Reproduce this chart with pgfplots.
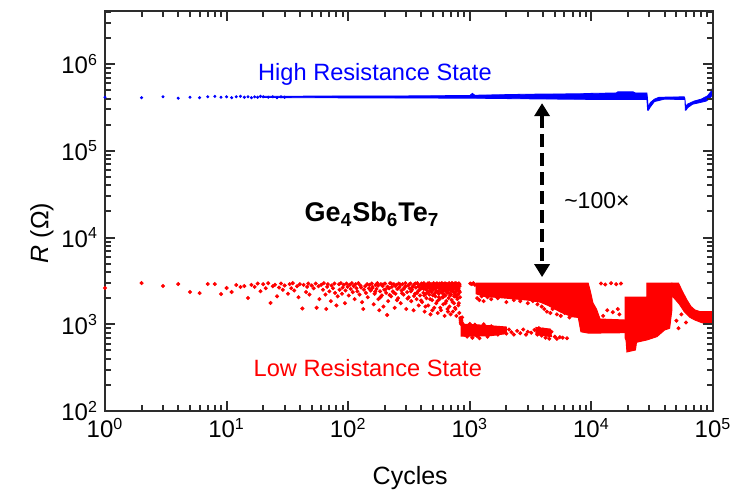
\documentclass[border=0pt]{standalone}
\usepackage{fontspec}
\setmainfont{Liberation Sans}
\usepackage{pgfplots}
\pgfplotsset{compat=1.18}
\usetikzlibrary{arrows.meta}

\definecolor{frame}{RGB}{45,45,45}

\begin{document}
\begin{tikzpicture}
\begin{axis}[
  scale only axis, width=304pt, height=200pt,
  xmode=log, ymode=log,
  xmin=1, xmax=1e5, ymin=100, ymax=4.1e6,
  xtick={1,10,100,1000,10000,100000},
  xticklabels={10\textsuperscript{0},10\textsuperscript{1},10\textsuperscript{2},10\textsuperscript{3},10\textsuperscript{4},10\textsuperscript{5}},
  ytick={100,1000,10000,100000,1000000},
  yticklabels={10\textsuperscript{2},10\textsuperscript{3},10\textsuperscript{4},10\textsuperscript{5},10\textsuperscript{6}},
  minor xtick={2,3,4,5,6,7,8,9,20,30,40,50,60,70,80,90,200,300,400,500,600,700,800,900,2000,3000,4000,5000,6000,7000,8000,9000,20000,30000,40000,50000,60000,70000,80000,90000},
  minor ytick={200,300,400,500,600,700,800,900,2000,3000,4000,5000,6000,7000,8000,9000,20000,30000,40000,50000,60000,70000,80000,90000,200000,300000,400000,500000,600000,700000,800000,900000,2000000,3000000,4000000},
  tick pos=both,
  tick align=inside,
  major tick length=5pt, minor tick length=3pt,
  axis line style={frame, line width=1.2pt},
  tick style={frame, line width=1pt},
  axis on top,
  tick label style={font=\fontsize{12}{14}\selectfont},
  label style={font=\fontsize{12.5}{15}\selectfont},
  xlabel={Cycles},
  ylabel={\textit{R} (Ω)},
  xlabel style={at={(axis description cs:0.502,-0.1675)}, anchor=center},
  ylabel style={at={(axis description cs:-0.1036,0.445)}, anchor=center},
]

% high resistance state: dense band
\addplot[fill=blue, draw=blue, line width=0.4pt] coordinates {
  (20,4.25e5) (100,4.3e5) (300,4.3e5) (1000,4.35e5) (1050,4.6e5) (1100,4.38e5)
  (3000,4.5e5) (8000,4.55e5) (10000,4.6e5) (16000,4.65e5) (16500,4.8e5) (22000,4.8e5)
  (23000,4.65e5) (28600,4.65e5) (28900,4.1e5) (29300,3.2e5) (30500,3.6e5) (33000,3.95e5)
  (36000,4.15e5) (58000,4.2e5) (58800,4.0e5) (59500,3.2e5) (61500,3.45e5) (70000,3.75e5)
  (80000,3.95e5) (90000,4.3e5) (97000,4.9e5) (100000,5.5e5)
  (100000,4.6e5) (95000,4.05e5) (88000,3.75e5) (78000,3.6e5) (68000,3.45e5) (62000,3.15e5)
  (60000,2.95e5) (59200,2.95e5) (58800,3.9e5) (40000,3.95e5) (33000,3.7e5) (30500,3.2e5)
  (29500,2.95e5) (29000,2.95e5) (28600,3.92e5) (10000,3.92e5) (3000,3.98e5) (1000,4.05e5)
  (100,4.08e5) (20,4.12e5)} -- cycle;
% high resistance state: early cycles
\addplot[only marks, mark=*, mark size=0.55pt, blue] coordinates {
  (1,4.15e5) (2,4.1e5) (3,4.2e5) (4,4.05e5) (5,4.15e5) (6,4.1e5) (7,4.2e5) (8,4.25e5)
  (9,4.15e5) (10,4.2e5) (11,4.1e5) (12,4.2e5) (13,4.25e5) (14,4.15e5) (15,4.2e5)
  (16,4.1e5) (17,4.2e5) (18,4.15e5) (19,4.25e5) (20,4.2e5) (22,4.15e5) (24,4.2e5)
  (26,4.1e5) (28,4.2e5) (30,4.15e5)};

% low resistance state: dense blocks
\addplot[fill=red, draw=red, line width=0.5pt] coordinates {
  (1125,2990) (9400,2990) (9800,2400) (10300,1760) (11000,1500) (11780,1150) (18900,1120)
  (18900,800) (9500,790) (8200,820) (7800,1200) (7000,1220) (6300,1290) (5600,1380)
  (5000,1500) (4400,1650) (3800,1800) (3000,1900) (2000,2000) (1300,2100) (1125,2250)} -- cycle;
\addplot[fill=red, draw=red, line width=0.5pt] coordinates {
  (18900,2060) (28600,2060) (28600,2990) (46000,2990) (46000,1500) (44000,900) (40000,860)
  (34600,720) (28600,660) (23500,620) (23000,505) (19600,480) (19300,650) (18900,700)} -- cycle;
\addplot[fill=red, draw=red, line width=0.5pt] coordinates {
  (46000,2990) (52000,2990) (56000,2400) (61100,1900) (66000,1600) (71100,1460) (78200,1400)
  (100000,1400) (100000,1030) (90000,1000) (80000,1050) (71100,1120) (64700,1200) (58000,1400)
  (53000,1700) (48000,2000) (46000,2100)} -- cycle;
\addplot[fill=red, draw=red, line width=0.5pt] coordinates {
  (850,1000) (1100,990) (1500,960) (2000,930) (2000,780) (1500,740) (1100,730) (850,730)} -- cycle;
\addplot[fill=red, draw=red, line width=0.5pt] coordinates {
  (3500,920) (4600,880) (4700,720) (3500,760)} -- cycle;

% low resistance state: individual points
\addplot[only marks, mark=*, mark size=0.8pt, red] coordinates {
  (1,2620) (2,2990) (3,2760) (4,2910) (5,2355) (6,2290) (7,2910) (8,2910) (9,2230)
  (10,2620) (11,2355) (12,2840) (13,2690) (14,2760) (15,2010)
  (16,2850) (17,2700) (18,2950) (19,2400) (20,2900) (21,2600) (22,2980) (23,1760) (24,2750)
  (25,2850) (26,2100) (27,2650) (28,2950) (29,2500) (30,2800) (32,2250) (33,2900) (34,2600)
  (35,2980) (36,2450) (38,2750) (39,2050) (40,2900) (42,1520) (43,2850) (45,2350) (46,2700)
  (47,2950) (48,2200) (50,2800)
  (52,2600) (54,2950) (55,1550) (57,2750) (58,1950) (60,2850) (62,2500) (63,2980) (65,2200)
  (66,1500) (67,2700) (68,2900) (70,2400) (72,1850) (73,2800) (75,2600) (77,2950) (78,2300)
  (80,1650) (82,2100) (84,2900) (85,2500) (87,2980) (89,2250) (90,2650) (92,2850) (94,1750)
  (95,2450) (97,2950) (99,2700) (101,2150) (103,2850) (105,2550) (107,2980) (109,2350)
  (111,2750) (113,1950) (115,2900) (117,2600) (119,2400) (121,2980) (124,2200) (126,2800)
  (128,2650) (130,1800) (133,1500) (135,2500) (138,2750) (140,2300) (143,2900) (145,2050)
  (148,2600) (150,2850)
  (153,2450) (156,2950) (159,2700) (162,1700) (165,2250) (168,2850) (171,2550) (174,2980)
  (177,1950) (180,1450) (183,2400) (186,2900) (189,2150) (192,2750) (195,1600) (198,2500)
  (201,2950) (205,2300) (209,1280) (213,1850) (217,2600) (221,2980) (225,2100) (229,2700)
  (233,2400) (237,2900) (241,1550) (245,2250) (249,2850) (253,2550) (257,2000) (261,2950)
  (265,2700) (270,1750) (275,2450) (280,2900) (285,2200) (290,2650) (295,2980) (300,1500)
  (305,2350) (310,2800) (315,2050) (320,2600) (325,2950) (330,1850) (335,2500) (340,2750)
  (345,1450) (350,2900) (355,2250) (360,2650) (365,1950) (370,2980) (375,2400) (380,1650)
  (385,2800) (390,2150) (395,2600) (400,2950)
  (405,1800) (410,2700) (415,2300) (420,2980) (425,1400) (430,2550) (435,2850) (440,2000)
  (445,2450) (450,2950) (455,1650) (460,2750) (465,2200) (470,2600) (475,1300) (480,2900)
  (485,2350) (490,1900) (495,2800) (500,2500) (505,2980) (510,1550) (515,2650) (520,2100)
  (525,2850) (530,1750) (535,2400) (540,2950) (545,1350) (550,2700) (555,2250) (560,2900)
  (565,1950) (570,2550) (575,2800) (580,1450) (585,2350) (590,2980) (595,2050) (600,2650)
  (605,1700) (610,2850) (615,2450) (620,1250) (625,2750) (630,2150) (635,2950) (640,1850)
  (645,2600) (650,2900) (655,1500) (660,2300) (665,2700) (670,2000) (675,2980) (680,1600)
  (685,2500) (690,2850) (695,1300) (700,2200) (705,2750) (710,1900) (715,2600) (720,2950)
  (725,1400) (730,2400) (735,2800) (740,1750) (745,2100) (750,2900) (755,1550) (760,2650)
  (765,2350) (770,2980) (775,1250) (780,2500) (785,2850) (790,1950) (795,2700) (800,2200)
  (805,1650) (810,2950) (815,2450) (820,1350) (825,2750) (830,2050)
  (402,2600) (412,2900) (422,2150) (432,1600) (442,2800) (452,2350) (462,2980) (472,1950)
  (482,2650) (492,1450) (502,2850) (512,2250) (522,2550) (532,2950) (542,1850) (552,2400)
  (562,2750) (572,1550) (582,2900) (592,2300) (602,2050) (612,2650) (622,2950) (632,1750)
  (642,2450) (652,2800) (662,1400) (672,2600) (682,2900) (692,2150) (702,2450) (712,2980)
  (722,1800) (732,2650) (742,2900) (752,2250) (762,1500) (772,2750) (782,2050) (792,2900)
  (802,2550) (812,1750) (822,2850)
  (158,2620) (167,2380) (176,2780) (184,2050) (194,2880) (203,2520) (211,2710) (219,2180)
  (227,2940) (236,2330) (244,2760) (252,1900) (259,2600) (268,2870) (277,2280) (287,2560)
  (297,2750) (308,1980) (318,2900) (328,2400) (338,2680) (348,2120) (358,2950) (368,2300)
  (378,2720) (388,2500) (398,1880) (407,2850) (417,2560) (427,2760) (437,2250) (447,2680)
  (457,2900) (467,2450) (477,2780) (487,2600) (497,2150) (507,2700) (517,2880) (527,2350)
  (537,2650) (547,2800) (557,2050) (567,2950) (577,2600) (587,2700) (597,2450) (607,2900)
  (617,2200) (627,2600) (637,2800) (647,2350) (657,2750) (667,2500) (677,2850) (687,2250)
  (697,2650) (707,2900) (717,2400) (727,2780) (737,2550) (747,2950) (757,2150) (767,2700)
  (777,2880) (787,2450) (797,2800) (807,2600) (817,2950) (827,2350)
  (835,1180) (838,1120) (842,1060) (846,1010) (850,1150) (855,1090) (860,1040) (865,1200)
  (880,1000) (900,760) (950,720) (1000,1010) (1050,700) (1100,990) (1150,730) (1200,690)
  (1300,1000) (1400,720) (1500,950) (1600,880) (1700,760) (1800,900) (1900,820) (2000,780)
  (2100,870) (2200,810) (2300,760) (2450,840) (2600,790) (2750,870) (2900,760) (3000,820)
  (3200,800) (3400,860) (3600,760) (3700,900) (3800,820) (3900,740) (4000,870) (4100,790)
  (4200,700) (4300,840) (4400,760) (4500,680) (4700,820) (5000,720) (5200,680) (5500,710)
  (5800,700) (6300,690)
  (1010,2950) (1040,2900) (1070,2980) (1100,2850)
  (1150,2000) (1200,1900) (1250,2100) (1300,1850) (1400,2050) (1500,1950) (1700,2000)
  (2000,1800) (2300,1900) (2600,1850) (3000,1750) (3300,1850) (3600,1700) (3900,1600)
  (4100,1500) (4300,1400) (4600,1350) (4800,1500) (5200,1300) (5600,1250) (6000,1350) (6600,1200)
  (12000,2950) (13000,2880) (14500,2980) (16000,2900) (17500,2950) (13500,1450) (15000,1380)
  (16500,1500) (12500,1250) (17000,1300) (36000,1350) (39000,1200) (42000,1450)
  (55000,1300) (60000,1050) (52000,900) (50000,1100)};

% annotations
\draw[black, line width=2pt, dash pattern=on 6.5pt off 3pt,
  {Triangle[width=7.5pt,length=6.5pt]}-{Triangle[width=7.5pt,length=6.5pt]}]
  (axis cs:3930,3.55e5) -- (axis cs:3930,3.5e3);
\node[blue, font=\fontsize{11.8}{14}\selectfont] at (axis cs:166,7.6e5) {High Resistance State};
\node[red, font=\fontsize{11.8}{14}\selectfont] at (axis cs:145,310) {Low Resistance State};
\node[font=\fontsize{13.5}{16}\selectfont\bfseries] at (axis cs:157,1.85e4)
  {Ge\textsubscript{4}Sb\textsubscript{6}Te\textsubscript{7}};
\node[font=\fontsize{11.5}{14}\selectfont] at (axis cs:11100,2.7e4) {\symbol{"7E}100×};
\end{axis}
\pgfresetboundingbox
\useasboundingbox (-52.5pt,-40.5pt) rectangle (314.5pt,205.5pt);
\end{tikzpicture}
\end{document}
